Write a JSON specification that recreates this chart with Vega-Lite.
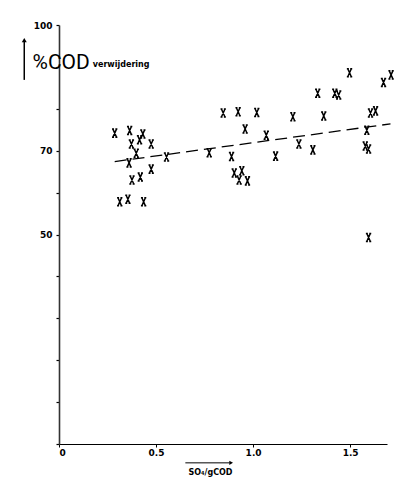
{
  "$schema": "https://vega.github.io/schema/vega-lite/v6.json",
  "width": 328,
  "height": 419,
  "autosize": "none",
  "padding": {"left": 59, "top": 25, "right": 25, "bottom": 41},
  "background": "white",
  "config": {"view": {"stroke": null}, "axis": {"grid": false}},
  "datasets": {
    "points": [
      {"ratio": 0.287, "cod": 74.2}, {"ratio": 0.364, "cod": 74.8}, {"ratio": 0.373, "cod": 71.6},
      {"ratio": 0.415, "cod": 72.6}, {"ratio": 0.432, "cod": 74.0}, {"ratio": 0.475, "cod": 71.6},
      {"ratio": 0.361, "cod": 67.1}, {"ratio": 0.398, "cod": 69.4}, {"ratio": 0.475, "cod": 65.6},
      {"ratio": 0.376, "cod": 63.0}, {"ratio": 0.419, "cod": 63.7}, {"ratio": 0.313, "cod": 57.8},
      {"ratio": 0.355, "cod": 58.4}, {"ratio": 0.436, "cod": 57.8}, {"ratio": 0.554, "cod": 68.5},
      {"ratio": 0.774, "cod": 69.5}, {"ratio": 0.846, "cod": 79.0}, {"ratio": 0.923, "cod": 79.3},
      {"ratio": 1.019, "cod": 79.1}, {"ratio": 0.959, "cod": 75.2}, {"ratio": 1.068, "cod": 73.7},
      {"ratio": 0.889, "cod": 68.6}, {"ratio": 1.116, "cod": 68.7}, {"ratio": 0.903, "cod": 64.7},
      {"ratio": 0.942, "cod": 65.2}, {"ratio": 0.928, "cod": 63.0}, {"ratio": 0.971, "cod": 62.8},
      {"ratio": 1.205, "cod": 78.1}, {"ratio": 1.236, "cod": 71.6}, {"ratio": 1.308, "cod": 70.2},
      {"ratio": 1.333, "cod": 83.7}, {"ratio": 1.364, "cod": 78.3}, {"ratio": 1.421, "cod": 83.7},
      {"ratio": 1.441, "cod": 83.3}, {"ratio": 1.497, "cod": 88.6}, {"ratio": 1.605, "cod": 79.0},
      {"ratio": 1.631, "cod": 79.5}, {"ratio": 1.586, "cod": 74.9}, {"ratio": 1.578, "cod": 71.1},
      {"ratio": 1.595, "cod": 70.4}, {"ratio": 1.672, "cod": 86.3}, {"ratio": 1.711, "cod": 88.1},
      {"ratio": 1.595, "cod": 49.3}
    ],
    "trend": [
      {"ratio": 0.287, "cod": 67.4},
      {"ratio": 1.708, "cod": 76.4}
    ],
    "one": [{}]
  },
  "layer": [
    {
      "data": {"name": "trend"},
      "mark": {"type": "line", "color": "black", "strokeWidth": 1.3, "strokeDash": [12, 6]},
      "encoding": {
        "x": {
          "field": "ratio", "type": "quantitative",
          "scale": {"domain": [0, 1.69], "nice": false, "zero": true},
          "axis": {
            "values": [0, 0.5, 1.0, 1.5],
            "labelExpr": "datum.value == 0 ? '0' : format(datum.value, '.1f')",
            "domainColor": "black", "domainWidth": 1.2,
            "tickColor": "black", "tickSize": 3, "tickWidth": 1,
            "labelFont": "DejaVu Sans", "labelFontWeight": "bold", "labelFontSize": 9,
            "labelColor": "black", "labelPadding": 1,
            "title": "SO₄/gCOD",
            "titleFont": "DejaVu Sans", "titleFontWeight": "bold", "titleFontSize": 8,
            "titleColor": "black", "titleX": 151, "titleY": 28, "titleAlign": "center", "titleBaseline": "middle"
          }
        },
        "y": {
          "field": "cod", "type": "quantitative",
          "scale": {"domain": [0, 100], "nice": false},
          "axis": {
            "values": [0, 10, 20, 30, 40, 50, 60, 70, 80, 90, 100],
            "labelExpr": "(datum.value == 100 || datum.value == 70 || datum.value == 50) ? datum.label : ''",
            "domainColor": "#333", "domainWidth": 1.6,
            "tickColor": "black", "tickSize": 3, "tickWidth": 1.2,
            "labelFont": "DejaVu Sans", "labelFontWeight": "bold", "labelFontSize": 9,
            "labelColor": "black", "labelPadding": 4,
            "title": "%COD", "titleAngle": 0, "titleAlign": "left", "titleBaseline": "alphabetic",
            "titleX": -27, "titleY": 43,
            "titleFont": "Roboto",
            "titleFontWeight": "normal", "titleFontSize": 21, "titleColor": "black"
          }
        }
      }
    },
    {
      "data": {"name": "points"},
      "mark": {
        "type": "point",
        "shape": "M-0.4,-0.9L0.4,0.9M0.4,-0.9L-0.4,0.9M-0.6,-0.9L-0.15,-0.9M0.15,-0.9L0.6,-0.9M-0.6,0.9L-0.15,0.9M0.15,0.9L0.6,0.9",
        "size": 80, "filled": false, "stroke": "black", "strokeWidth": 1.5, "opacity": 1
      },
      "encoding": {
        "x": {"field": "ratio", "type": "quantitative"},
        "y": {"field": "cod", "type": "quantitative"}
      }
    },
    {
      "data": {"name": "one"},
      "mark": {"type": "text", "text": "verwijdering", "align": "left", "baseline": "alphabetic",
               "font": "DejaVu Sans", "fontWeight": "bold", "fontSize": 8, "color": "black"},
      "encoding": {
        "x": {"datum": 0.174, "type": "quantitative"},
        "y": {"datum": 89.9, "type": "quantitative"}
      }
    },
    {
      "data": {"name": "one"},
      "mark": {"type": "rule", "color": "black", "strokeWidth": 1.5},
      "encoding": {
        "x": {"datum": -0.179, "type": "quantitative"},
        "y": {"datum": 86.9, "type": "quantitative"},
        "y2": {"datum": 96.0}
      }
    },
    {
      "data": {"name": "one"},
      "mark": {"type": "point", "shape": "triangle-up", "filled": true, "color": "black", "size": 25, "opacity": 1},
      "encoding": {
        "x": {"datum": -0.179, "type": "quantitative"},
        "y": {"datum": 96.4, "type": "quantitative"}
      }
    },
    {
      "data": {"name": "one"},
      "mark": {"type": "rule", "color": "black", "strokeWidth": 1},
      "encoding": {
        "x": {"datum": 0.651, "type": "quantitative"},
        "x2": {"datum": 0.88},
        "y": {"datum": -4.5, "type": "quantitative"}
      }
    },
    {
      "data": {"name": "one"},
      "mark": {"type": "point", "shape": "triangle-right", "filled": true, "color": "black", "size": 18, "opacity": 1},
      "encoding": {
        "x": {"datum": 0.887, "type": "quantitative"},
        "y": {"datum": -4.5, "type": "quantitative"}
      }
    }
  ]
}
